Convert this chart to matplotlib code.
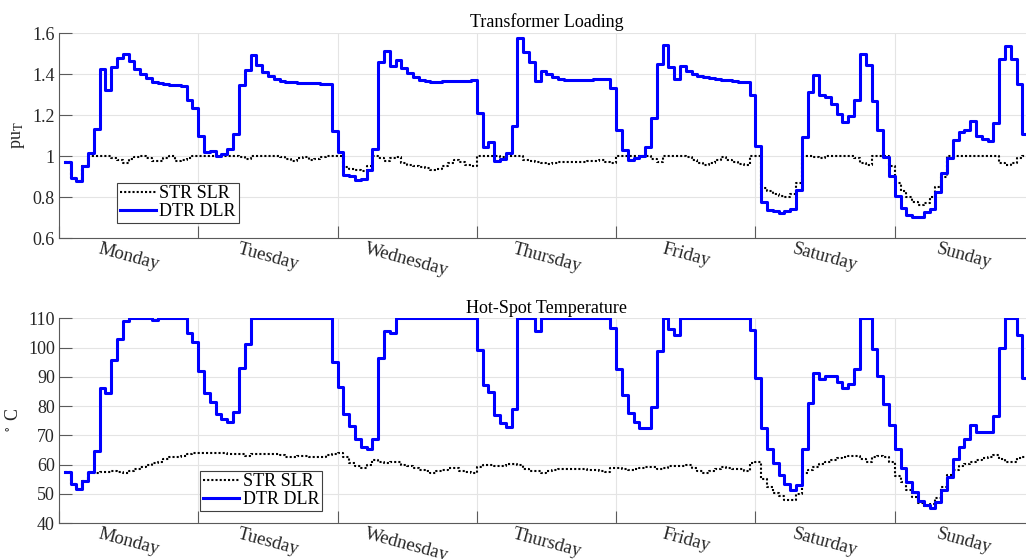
import matplotlib
matplotlib.use("Agg")
import matplotlib.pyplot as plt
import numpy as np

# Hourly samples over one week (hour 1 .. 168)
hours = list(range(1, 169))

days = ["Monday", "Tuesday", "Wednesday", "Thursday", "Friday", "Saturday", "Sunday"]

# Transformer loading [pu]
dtr_dlr_load = [
    0.97, 0.893, 0.878, 0.951, 1.013, 1.132, 1.423, 1.324, 1.434, 1.476,
    1.499, 1.462, 1.426, 1.400, 1.380, 1.359, 1.358, 1.353, 1.348, 1.345,
    1.343, 1.272, 1.234, 1.098, 1.020, 1.023, 0.998, 1.008, 1.033, 1.109,
    1.346, 1.418, 1.491, 1.442, 1.410, 1.389, 1.374, 1.366, 1.362, 1.360,
    1.358, 1.356, 1.355, 1.354, 1.352, 1.350, 1.120, 1.020, 0.909, 0.904,
    0.885, 0.886, 0.930, 1.033, 1.457, 1.511, 1.441, 1.467, 1.428, 1.405,
    1.384, 1.372, 1.364, 1.363, 1.363, 1.364, 1.365, 1.366, 1.367, 1.368,
    1.370, 1.208, 1.046, 1.070, 0.974, 0.985, 1.013, 1.146, 1.576, 1.507,
    1.459, 1.366, 1.415, 1.398, 1.385, 1.374, 1.369, 1.370, 1.371, 1.372,
    1.373, 1.374, 1.375, 1.377, 1.332, 1.125, 1.028, 0.979, 0.992, 0.998,
    1.044, 1.187, 1.450, 1.543, 1.434, 1.376, 1.439, 1.415, 1.402, 1.392,
    1.384, 1.380, 1.376, 1.372, 1.369, 1.366, 1.363, 1.360, 1.299, 1.049,
    0.774, 0.735, 0.730, 0.724, 0.730, 0.743, 0.836, 1.091, 1.312, 1.395,
    1.299, 1.288, 1.254, 1.203, 1.167, 1.195, 1.273, 1.498, 1.442, 1.268,
    1.127, 0.995, 0.904, 0.803, 0.746, 0.714, 0.702, 0.702, 0.727, 0.743,
    0.823, 0.919, 0.989, 1.080, 1.119, 1.128, 1.171, 1.098, 1.085, 1.072,
    1.161, 1.473, 1.535, 1.473, 1.353, 1.109, 1.020, 0.970,
]

str_slr_load = [
    0.97, 0.893, 0.878, 0.951, 1.0, 1.0, 1.0, 0.998, 0.99, 0.98,
    0.966, 0.985, 0.995, 1.0, 0.99, 0.978, 0.974, 0.99, 1.0, 0.978,
    0.98, 0.99, 1.0, 1.0, 1.0, 1.0, 1.0, 0.998, 1.0, 1.0,
    0.995, 0.985, 1.0, 1.0, 1.0, 1.0, 1.0, 0.995, 0.985, 0.978,
    0.99, 0.995, 0.98, 0.985, 0.995, 1.0, 1.0, 1.0, 0.945, 0.938,
    0.93, 0.928, 0.95, 1.0, 0.99, 0.975, 0.99, 0.995, 0.965, 0.958,
    0.952, 0.946, 0.94, 0.933, 0.935, 0.95, 0.965, 0.98, 0.97, 0.955,
    0.95, 1.0, 1.0, 1.0, 1.0, 0.995, 1.0, 1.0, 1.0, 0.98,
    0.975, 0.972, 0.965, 0.96, 0.968, 0.972, 0.972, 0.97, 0.97, 0.97,
    0.975, 0.978, 0.98, 0.972, 0.965, 1.0, 1.0, 1.0, 1.0, 1.0,
    1.0, 0.985, 0.97, 0.998, 0.998, 1.0, 1.0, 0.995, 0.98, 0.965,
    0.955, 0.965, 0.98, 0.995, 0.98, 0.97, 0.96, 0.955, 1.0, 1.0,
    0.845, 0.83, 0.815, 0.803, 0.8, 0.815, 0.87, 1.0, 1.0, 0.995,
    0.99, 1.0, 1.0, 1.0, 1.0, 1.0, 0.99, 0.965, 0.955, 1.0,
    1.0, 1.0, 0.95, 0.87, 0.83, 0.8, 0.775, 0.762, 0.77, 0.8,
    0.85, 0.9, 1.0, 1.0, 1.0, 1.0, 1.0, 1.0, 1.0, 1.0,
    1.0, 0.965, 0.958, 0.965, 0.99, 1.0, 1.0, 1.0,
]

# Hot-spot temperature [deg C]
dtr_dlr_temp = [
    57.4, 53.4, 51.8, 54.5, 57.5, 64.8, 86.3, 84.4, 95.8, 103.1,
    109.0, 110, 110, 110, 110, 109.3, 110, 110, 110, 110,
    110, 105.1, 101.8, 92.0, 84.5, 81.4, 77.3, 75.5, 74.7, 77.9,
    93.0, 101.2, 110, 110, 110, 110, 110, 110, 110, 110,
    110, 110, 110, 110, 110, 110, 95.2, 86.6, 77.3, 73.2,
    68.9, 66.1, 65.5, 68.9, 96.3, 105.7, 104.9, 110, 110, 110,
    110, 110, 110, 110, 110, 110, 110, 110, 110, 110,
    110, 99.1, 87.2, 85.0, 77.1, 74.4, 73.0, 78.9, 110, 110,
    110, 105.8, 110, 110, 110, 110, 110, 110, 110, 110,
    110, 110, 110, 110, 106.8, 92.7, 83.8, 77.8, 74.7, 72.4,
    72.7, 79.8, 98.7, 110, 106.2, 104.3, 110, 110, 110, 110,
    110, 110, 110, 110, 110, 110, 110, 110, 105.9, 89.5,
    72.7, 65.4, 60.6, 56.4, 53.3, 51.3, 53.2, 65.2, 81.0, 91.2,
    89.2, 90.4, 90.3, 88.1, 86.1, 87.5, 92.6, 110, 110, 99.6,
    90.3, 80.7, 73.4, 65.2, 59.0, 54.1, 50.6, 47.7, 46.4, 45.2,
    47.1, 51.4, 55.7, 62.0, 66.2, 68.9, 73.6, 71.3, 71.3, 71.3,
    76.8, 99.8, 110, 110, 104.3, 89.5, 80.0, 75.0,
]

str_slr_temp = [
    57.4, 53.4, 51.8, 54.5, 57.5, 57.3, 57.4, 57.6, 57.7, 57.6,
    57.0, 57.8, 58.5, 59.3, 60.0, 60.6, 61.0, 62.0, 62.8, 62.5,
    63.0, 63.5, 63.9, 64.0, 64.0, 64.0, 63.9, 63.9, 63.8, 63.8,
    63.6, 63.0, 63.5, 63.6, 63.6, 63.6, 63.5, 63.3, 62.6, 62.5,
    62.9, 63.1, 62.8, 62.7, 62.5, 63.3, 63.7, 63.9, 62.5, 60.5,
    59.5, 59.0, 60.0, 61.6, 61.0, 60.5, 61.0, 61.0, 60.0, 59.5,
    58.8, 58.3, 57.8, 57.3, 57.7, 58.2, 58.8, 59.0, 58.0, 57.6,
    57.0, 59.2, 59.8, 60.0, 59.5, 59.7, 60.3, 60.2, 59.8, 58.5,
    58.0, 57.7, 57.3, 57.8, 58.3, 58.5, 58.6, 58.5, 58.4, 58.5,
    58.3, 58.2, 58.0, 57.6, 58.8, 59.0, 58.5, 58.3, 58.6, 59.0,
    59.3, 59.2, 58.4, 59.0, 59.4, 59.6, 59.7, 59.9, 59.0, 57.8,
    57.2, 57.8, 58.6, 59.2, 58.8, 58.5, 58.4, 58.0, 60.7, 61.0,
    55.0, 52.5, 50.5, 49.3, 48.0, 47.8, 50.0, 57.0, 58.2, 59.3,
    60.2, 61.0, 61.7, 62.2, 62.6, 62.9, 63.1, 61.8, 60.8, 62.5,
    63.0, 62.8, 61.0, 56.0, 54.0, 51.5, 49.0, 46.8, 46.0, 46.5,
    48.5, 52.5, 56.5, 58.3, 59.6, 60.4, 61.0, 61.7, 62.3, 62.8,
    63.2, 61.9, 60.9, 61.0, 62.3, 62.8, 63.0, 63.0,
]

load_ticks = [0.6, 0.8, 1.0, 1.2, 1.4, 1.6]
load_ticklabels = ["0.6", "0.8", "1", "1.2", "1.4", "1.6"]
temp_ticks = [40, 50, 60, 70, 80, 90, 100, 110]

plt.rcParams["font.family"] = ["Liberation Serif", "DejaVu Serif"]
plt.rcParams["mathtext.fontset"] = "stix"

TXT = "#262626"
SPINE = "#5a5a5a"
GRID = "#e4e4e4"

fig = plt.figure(figsize=(10.26, 5.59), dpi=100)
ax1 = fig.add_axes([0.0575, 0.5742, 0.9503, 0.3667])
ax2 = fig.add_axes([0.0575, 0.0639, 0.9503, 0.3667])

day_edges = np.arange(0, 24 * 7 + 1, 24)
day_mid = day_edges[:-1] + 12


def style(ax, yticks, yticklabels, ylim, title, ylabel):
    ax.set_xlim(0, 168)
    ax.set_ylim(*ylim)
    ax.set_yticks(yticks)
    ax.set_yticklabels(yticklabels)
    ax.set_xticks(day_edges)
    ax.set_xticklabels([])
    ax.set_xticks(day_mid, minor=True)
    ax.set_xticklabels(days, minor=True, rotation=-15, fontsize=13.5,
                       color=TXT, ha="center", va="top")
    ax.tick_params(axis="x", which="minor", length=0, pad=2)
    ax.tick_params(axis="x", which="major", direction="in", length=9,
                   width=0.8, color=SPINE)
    ax.tick_params(axis="y", direction="in", length=9, width=0.8,
                   color=SPINE, labelsize=13, labelcolor=TXT, pad=3)
    ax.grid(True, which="major", color=GRID, linewidth=0.8)
    ax.set_axisbelow(True)
    for side in ("top", "right"):
        ax.spines[side].set_visible(False)
    for side in ("left", "bottom"):
        ax.spines[side].set_color(SPINE)
        ax.spines[side].set_linewidth(0.8)
    ax.set_title(title, fontsize=13, color="black", pad=4)
    ax.set_ylabel(ylabel, fontsize=13, color=TXT, labelpad=4)


ax1.step(hours, str_slr_load, where="post", color="black", lw=1.5,
         linestyle=(0, (1, 1)), label="STR SLR")
ax1.step(hours, dtr_dlr_load, where="post", color="#0000ff", lw=2.2,
         label="DTR DLR")
style(ax1, load_ticks, load_ticklabels, (0.6, 1.6), "Transformer Loading",
      r"pu$_\mathrm{T}$")

ax2.step(hours, str_slr_temp, where="post", color="black", lw=1.5,
         linestyle=(0, (1, 1)), label="STR SLR")
ax2.step(hours, dtr_dlr_temp, where="post", color="#0000ff", lw=2.2,
         label="DTR DLR")
style(ax2, temp_ticks, [str(t) for t in temp_ticks], (40, 110),
      "Hot-Spot Temperature", r"$^\circ$ C")

for ax, anchor in ((ax1, (0.0595, 0.073)), (ax2, (0.145, 0.06))):
    leg = ax.legend(loc="lower left", bbox_to_anchor=anchor, fontsize=13,
                    frameon=True, fancybox=False, framealpha=1,
                    edgecolor="#404040", handlelength=2.0,
                    handletextpad=0.2, borderpad=0.15, labelspacing=0.05,
                    borderaxespad=0)
    leg.get_frame().set_linewidth(0.8)

fig.savefig("out.png", dpi=100)
